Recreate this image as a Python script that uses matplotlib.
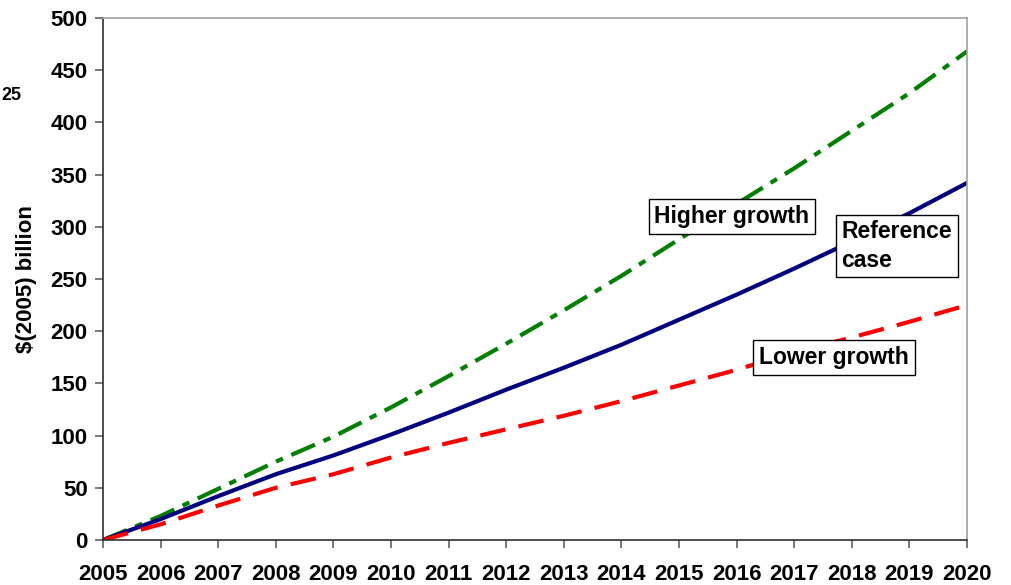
import matplotlib
matplotlib.use("Agg")
import matplotlib.pyplot as plt

years = list(range(2005, 2021))
reference = [0, 20, 42, 63, 81, 101, 122, 144, 165, 187, 211, 235, 260, 286, 313, 342]
higher = [0, 23, 49, 75, 99, 127, 157, 188, 220, 253, 288, 322, 356, 392, 428, 468]
lower = [0, 15, 33, 50, 63, 79, 93, 106, 119, 133, 148, 163, 180, 194, 209, 225]
yticks = list(range(0, 501, 50))

plt.rcParams['font.family'] = ['Liberation Sans', 'DejaVu Sans']
plt.rcParams['font.weight'] = 'bold'

fig = plt.figure(figsize=(10.11, 5.85), dpi=100)
ax = fig.add_axes([103/1011, 45/585, 864/1011, 522/585])

ax.plot(years, higher, color='#008000', lw=3, linestyle=(0, (6.2, 2.2, 1.8, 2.2)))
ax.plot(years, reference, color='#000080', lw=3, linestyle='-')
ax.plot(years, lower, color='#FF0000', lw=3, linestyle=(0, (6.2, 3.2)))

ax.set_xlim(2005, 2020)
ax.set_ylim(0, 500)
ax.set_xticks(years)
ax.set_xticklabels([str(y) for y in years], fontsize=16, fontweight='bold')
ax.set_yticks(yticks)
ax.set_yticklabels([str(v) for v in yticks], fontsize=16, fontweight='bold')
ax.tick_params(axis='both', direction='out', length=6, width=1.2, color='#606060')
ax.tick_params(axis='x', pad=11)
ax.tick_params(axis='y', pad=5)

for s in ['top', 'right']:
    ax.spines[s].set_color('#a0a0a0')
    ax.spines[s].set_linewidth(1.2)
for s in ['left', 'bottom']:
    ax.spines[s].set_color('#303030')
    ax.spines[s].set_linewidth(1.2)

ax.set_ylabel('$(2005) billion', fontsize=16, fontweight='bold', labelpad=10)

bbox = dict(boxstyle='square,pad=0.25', facecolor='white', edgecolor='black', linewidth=1)
ax.text(2015.92, 310, 'Higher growth', fontsize=16.5, fontweight='bold', ha='center', va='center', bbox=bbox)
ax.text(2018.78, 281.6, 'Reference\ncase', fontsize=16.5, fontweight='bold', ha='center', va='center',
        multialignment='left', linespacing=1.3, bbox=bbox)
ax.text(2017.69, 175, 'Lower growth', fontsize=16.5, fontweight='bold', ha='center', va='center', bbox=bbox)

fig.text(1/1011, 1 - 96/585, '25', fontsize=13, fontweight='bold', ha='left', va='center')

fig.savefig('out.png', dpi=100)
